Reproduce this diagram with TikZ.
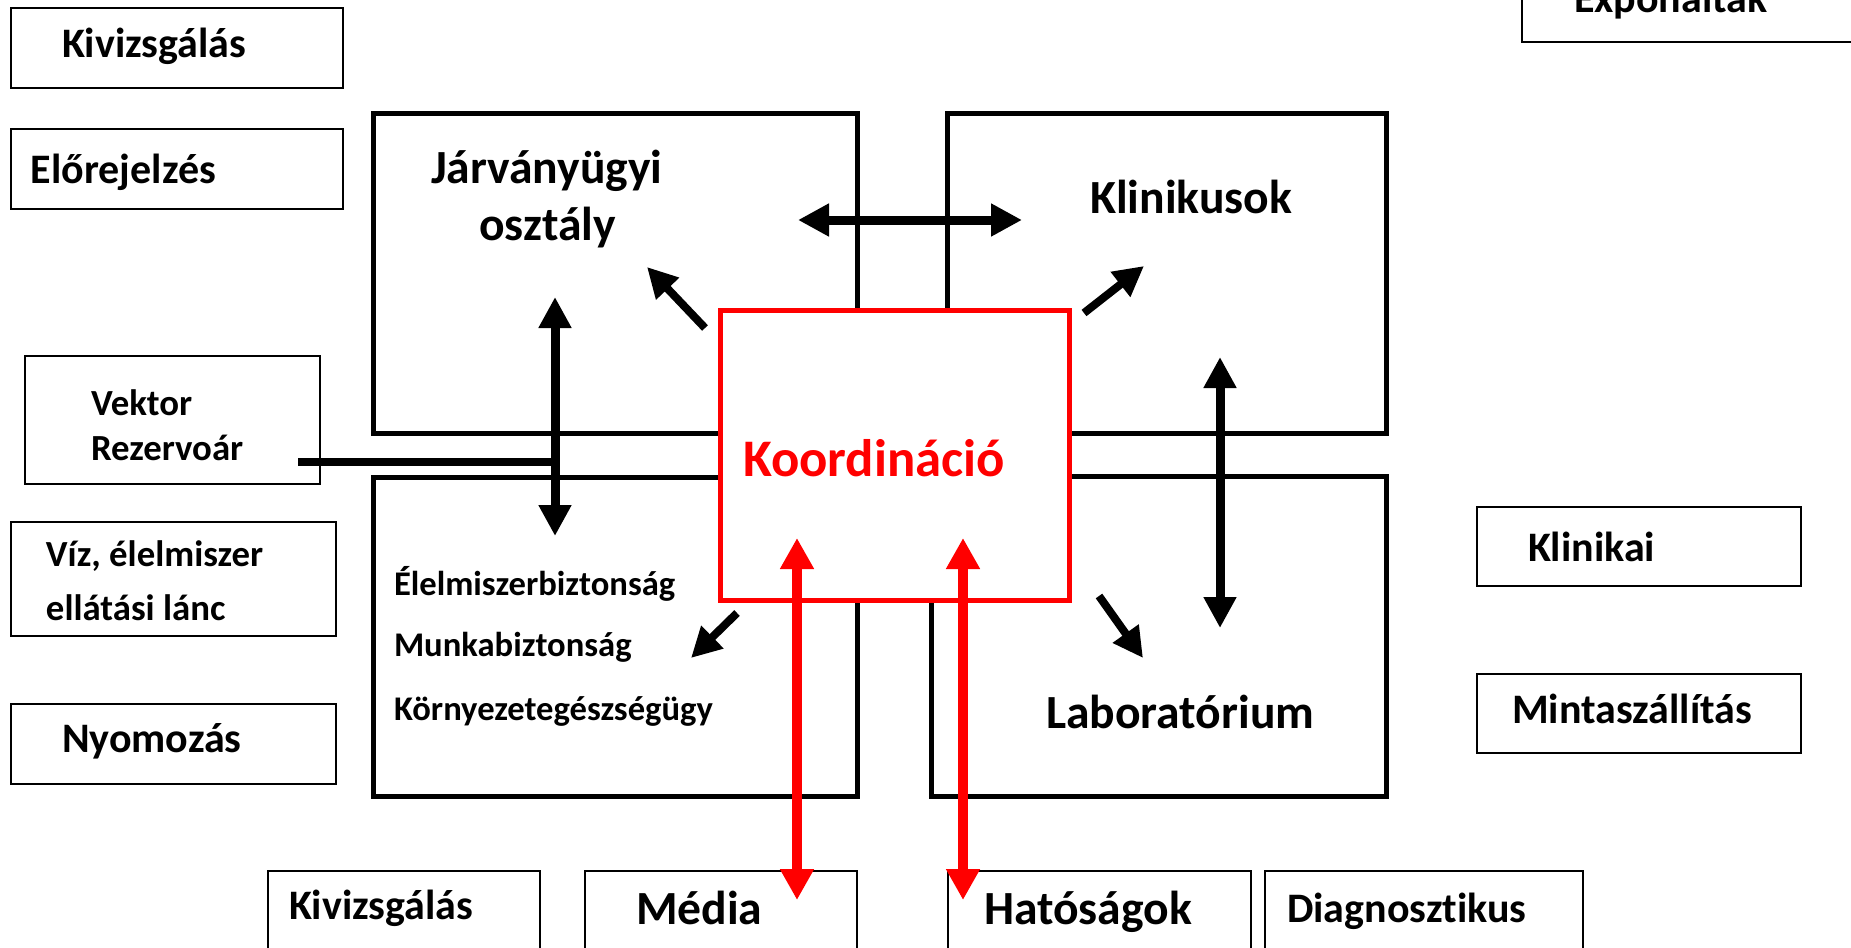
\documentclass[tikz,border=0pt]{standalone}
\usepackage{fontspec}
\setmainfont{Carlito}[Ligatures=NoCommon]
\usetikzlibrary{arrows.meta}
\begin{document}
\begin{tikzpicture}[x=0.5pt,y=-0.5pt,
  thinbox/.style={draw=black, line width=1.3pt, rectangle, inner sep=0pt, outer sep=0pt},
  thickbox/.style={draw=black, line width=2.5pt, rectangle, inner sep=0pt, outer sep=0pt},
  redbox/.style={draw=red, fill=white, line width=2.5pt, rectangle, inner sep=0pt, outer sep=0pt},
  lbl/.style={anchor=base west, inner sep=0pt, outer sep=0pt},
  fa/.style={lbl, font=\fontsize{21}{25}\selectfont\bfseries},
  fb/.style={lbl, font=\fontsize{23.8}{28}\selectfont\bfseries},
  fc/.style={lbl, font=\fontsize{18.4}{22}\selectfont\bfseries},
  fd/.style={lbl, font=\fontsize{17.3}{21}\selectfont\bfseries},
  darrow/.style={line width=4.5pt, {Triangle[width=15.5pt,length=15.5pt]}-{Triangle[width=15.5pt,length=15.5pt]}},
  sarrow/.style={line width=4pt, -{Triangle[width=15pt,length=15pt]}},
  rarrow/.style={draw=red, line width=5pt, {Triangle[width=16pt,length=15.5pt]}-{Triangle[width=16pt,length=15.5pt]}}
]
\clip (0,0) rectangle (1851,947);
\fill[white] (0,0) rectangle (1851,947);

% big boxes
\node[thickbox, minimum width=242pt, minimum height=159.5pt] (jar) at (615,273.5) {};
\node[thickbox, minimum width=219.5pt, minimum height=159.5pt] (kli) at (1166.5,273.5) {};
\node[thickbox, minimum width=242pt, minimum height=159.5pt] (elb) at (615,636.5) {};
\node[thickbox, minimum width=227.5pt, minimum height=160pt] (lab) at (1158.5,636) {};
\node[redbox, minimum width=174.5pt, minimum height=145pt] (koo) at (894.5,455) {};

% thin boxes
\node[thinbox, minimum width=166pt, minimum height=40pt] (kivA) at (177,48) {};
\node[thinbox, minimum width=166pt, minimum height=40pt] (elo) at (177,169) {};
\node[thinbox, minimum width=189pt, minimum height=41pt] (exp) at (1711,1) {};
\node[thinbox, minimum width=147.5pt, minimum height=64pt] (vek) at (172.5,420) {};
\node[thinbox, minimum width=162.5pt, minimum height=57pt] (viz) at (173.5,579) {};
\node[thinbox, minimum width=162.5pt, minimum height=40pt] (nyo) at (173.5,744) {};
\node[thinbox, minimum width=162pt, minimum height=39.5pt] (klk) at (1639,546.5) {};
\node[thinbox, minimum width=162pt, minimum height=39.5pt] (min) at (1639,713.5) {};
\node[thinbox, minimum width=136pt, minimum height=64.5pt] (kivB) at (404,935.5) {};
\node[thinbox, minimum width=136pt, minimum height=64.5pt] (med) at (721,935.5) {};
\node[thinbox, minimum width=151.5pt, minimum height=64.5pt] (hat) at (1099.5,935.5) {};
\node[thinbox, minimum width=159pt, minimum height=64.5pt] (dia) at (1424,935.5) {};

% arrow end points
\coordinate (hL) at (798,220);
\coordinate (hR) at (1022,220);
\coordinate (vLt) at (555,297);
\coordinate (vLb) at (555,536);
\coordinate (vRt) at (1220,357);
\coordinate (vRb) at (1220,628);
\coordinate (rLt) at (797,538);
\coordinate (rLb) at (797,900);
\coordinate (rRt) at (963,538);
\coordinate (rRb) at (963,900);
\coordinate (nwS) at (705,328);
\coordinate (nwE) at (647,267);
\coordinate (neS) at (1084,313);
\coordinate (neE) at (1144,266);
\coordinate (swS) at (737,613);
\coordinate (swE) at (691,658);
\coordinate (seS) at (1099,596);
\coordinate (seE) at (1143,658);
\coordinate (vekE) at (298,462);
\coordinate (vekJ) at (555,462);

% black connectors
\draw[line width=4pt] (vekE) -- (vekJ);
\draw[darrow] (hL) -- (hR);
\draw[darrow] (vLt) -- (vLb);
\draw[darrow] (vRt) -- (vRb);
\draw[sarrow] (nwS) -- (nwE);
\draw[sarrow] (neS) -- (neE);
\draw[sarrow] (swS) -- (swE);
\draw[sarrow] (seS) -- (seE);

% red connectors
\draw[rarrow] (rLt) -- (rLb);
\draw[rarrow] (rRt) -- (rRb);

% labels
\node[fa] (tKivA) at (62,58) {Kivizsgálás};
\node[fa] (tElo) at (31,183) {Előrejelzés};
\node[fb] (tJar1) at (431,183) {Járványügyi};
\node[fb] (tJar2) at (479,240) {osztály};
\node[fb] (tKli) at (1090,213) {Klinikusok};
\node[fa] (tExp) at (1574,13) {Exponáltak};
\node[fc] (tVek1) at (91,415) {Vektor};
\node[fc] (tVek2) at (91,460) {Rezervoár};
\node[lbl, text=red, font=\fontsize{26.4}{30}\selectfont\bfseries] (tKoo) at (743,476) {Koordináció};
\node[fc] (tViz1) at (46,566) {Víz, élelmiszer};
\node[fc] (tViz2) at (46,620) {ellátási lánc};
\node[fd] (tElb1) at (394,595) {Élelmiszerbiztonság};
\node[fd] (tElb2) at (394,656) {Munkabiztonság};
\node[fd] (tElb3) at (394,720) {Környezetegészségügy};
\node[fa] (tNyo) at (62,752) {Nyomozás};
\node[fb] (tLab) at (1046,728) {Laboratórium};
\node[fa] (tKlk) at (1528,561) {Klinikai};
\node[fa] (tMin) at (1512,723) {Mintaszállítás};
\node[fa] (tKivB) at (289,919) {Kivizsgálás};
\node[fb] (tMed) at (636,924) {Média};
\node[fb] (tHat) at (984,924) {Hatóságok};
\node[fa] (tDia) at (1287,922) {Diagnosztikus};
\end{tikzpicture}
\end{document}
